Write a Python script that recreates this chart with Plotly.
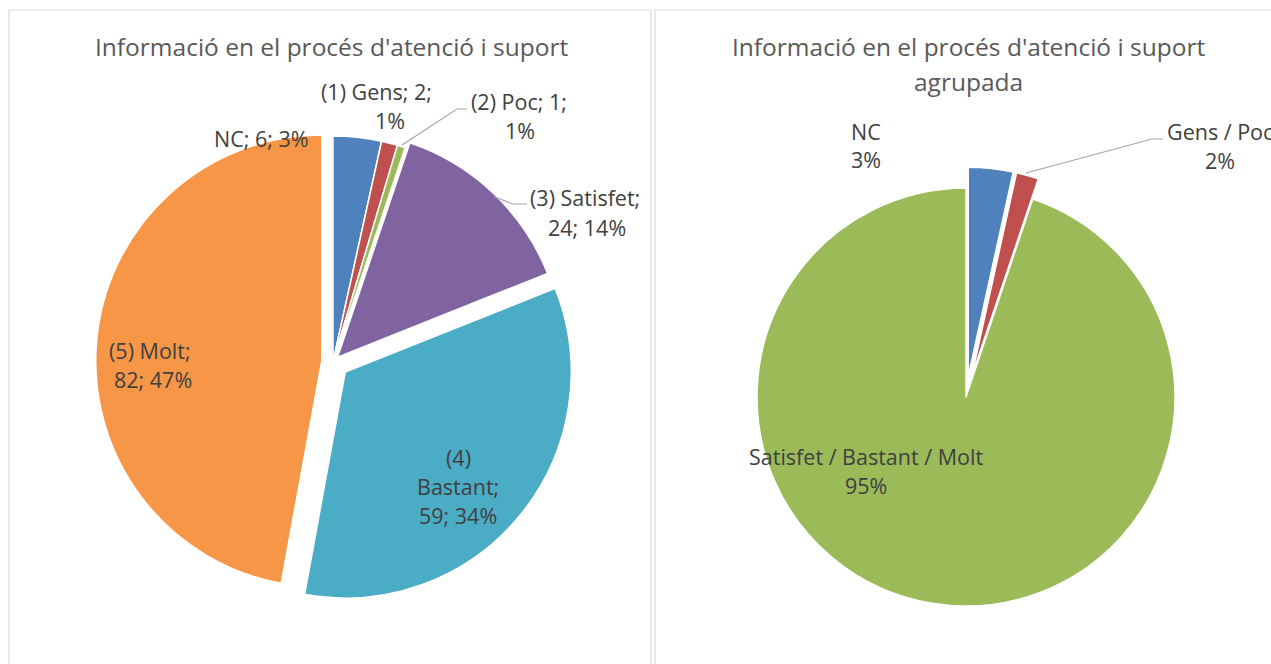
import plotly.graph_objects as go

# ---------------- data ----------------
left_title = "Informació en el procés d'atenció i suport"
left_labels = ["NC", "(1) Gens", "(2) Poc", "(3) Satisfet", "(4) Bastant", "(5) Molt"]
left_values = [6, 2, 1, 24, 59, 82]
left_colors = ["#4F81BD", "#C0504D", "#9BBB59", "#8064A2", "#4BACC6", "#F79646"]
left_pull = [0, 0, 0, 0.03, 0.07, 0.05]

right_title = "Informació en el procés d'atenció i suport<br>agrupada"
right_labels = ["NC", "Gens / Poc", "Satisfet / Bastant / Molt"]
right_values = [6, 3, 165]
right_colors = ["#4F81BD", "#C0504D", "#9BBB59"]
right_pull = [0.1, 0.1, 0]

W, H = 1271, 664
FONT = "Open Sans"
TXT = "#404040"
GRID = "#D9D9D9"
LEAD = "#A6A6A6"


def px(x):
    return x / W


def py(y):
    return 1 - y / H


def pct(vals):
    t = sum(vals)
    return [f"{round(v * 100 / t)}%" for v in vals]


lp = pct(left_values)
rp = pct(right_values)

fig = go.Figure()

# left pie: centre (333,362), radius 226
lc, lr = (333, 362), 226 * (1 + max(left_pull))
fig.add_trace(go.Pie(
    labels=left_labels, values=left_values, sort=False, direction="clockwise",
    rotation=0, pull=left_pull, textinfo="none", showlegend=False,
    marker=dict(colors=left_colors, line=dict(color="white", width=1.5)),
    domain=dict(x=[px(lc[0] - lr), px(lc[0] + lr)], y=[py(lc[1] + lr), py(lc[1] - lr)]),
))

# right pie: centre (966,397), radius 209
rc, rr = (966, 397), 209 * (1 + max(right_pull))
fig.add_trace(go.Pie(
    labels=right_labels, values=right_values, sort=False, direction="clockwise",
    rotation=0, pull=right_pull, textinfo="none", showlegend=False,
    marker=dict(colors=right_colors, line=dict(color="white", width=1.5)),
    domain=dict(x=[px(rc[0] - rr), px(rc[0] + rr)], y=[py(rc[1] + rr), py(rc[1] - rr)]),
))

annotations = []


def add_lines(lines, positions, size=21.5, color=TXT):
    for text, (x, y) in zip(lines, positions):
        annotations.append(dict(
            text=text, x=px(x), y=py(y), xref="paper", yref="paper",
            xanchor="center", yanchor="middle", showarrow=False,
            font=dict(family=FONT, size=size, color=color),
        ))


# titles
add_lines([left_title], [(331, 47)], size=24.5, color="#595959")
add_lines(right_title.split("<br>"), [(968, 47), (968, 82)], size=24.5, color="#595959")

# left labels
add_lines([f"{left_labels[0]}; {left_values[0]}; {lp[0]}"], [(261, 139)])
add_lines([f"{left_labels[1]}; {left_values[1]};", lp[1]], [(376, 92), (390, 120)])
add_lines([f"{left_labels[2]}; {left_values[2]};", lp[2]], [(519, 101), (520, 130)])
add_lines([f"{left_labels[3]};", f"{left_values[3]}; {lp[3]}"], [(585, 198), (587, 227)])
b_num, b_name = left_labels[4].split(" ", 1)
add_lines([b_num, f"{b_name};", f"{left_values[4]}; {lp[4]}"], [(458, 457), (458, 486), (458, 515)])
add_lines([f"{left_labels[5]};", f"{left_values[5]}; {lp[5]}"], [(150, 350), (153, 379)])

# right labels
add_lines([right_labels[0], rp[0]], [(866, 131), (866, 159)])
add_lines([right_labels[1], rp[1]], [(1220, 131), (1220, 160)])
add_lines([right_labels[2], rp[2]], [(866, 456), (866, 485)])

shapes = []
# panel borders
shapes.append(dict(type="rect", xref="paper", yref="paper", x0=px(9), x1=px(651),
                   y0=py(700), y1=py(10), line=dict(color=GRID, width=1.2)))
shapes.append(dict(type="rect", xref="paper", yref="paper", x0=px(655), x1=px(1300),
                   y0=py(700), y1=py(10), line=dict(color=GRID, width=1.2)))


def leader(points):
    path = "M " + " L ".join(f"{px(x)},{py(y)}" for x, y in points)
    shapes.append(dict(type="path", xref="paper", yref="paper", path=path,
                       line=dict(color=LEAD, width=1.2)))


leader([(467, 109), (457, 109), (402, 145)])
leader([(527, 204), (513, 204), (495, 197)])
leader([(1163, 139), (1152, 139), (1026, 173)])

fig.update_layout(
    width=W, height=H, margin=dict(l=0, r=0, t=0, b=0),
    paper_bgcolor="white", plot_bgcolor="white",
    annotations=annotations, shapes=shapes,
)

fig.write_html("out.html", config={"displayModeBar": False},
               post_script="document.body.style.margin='0';")
